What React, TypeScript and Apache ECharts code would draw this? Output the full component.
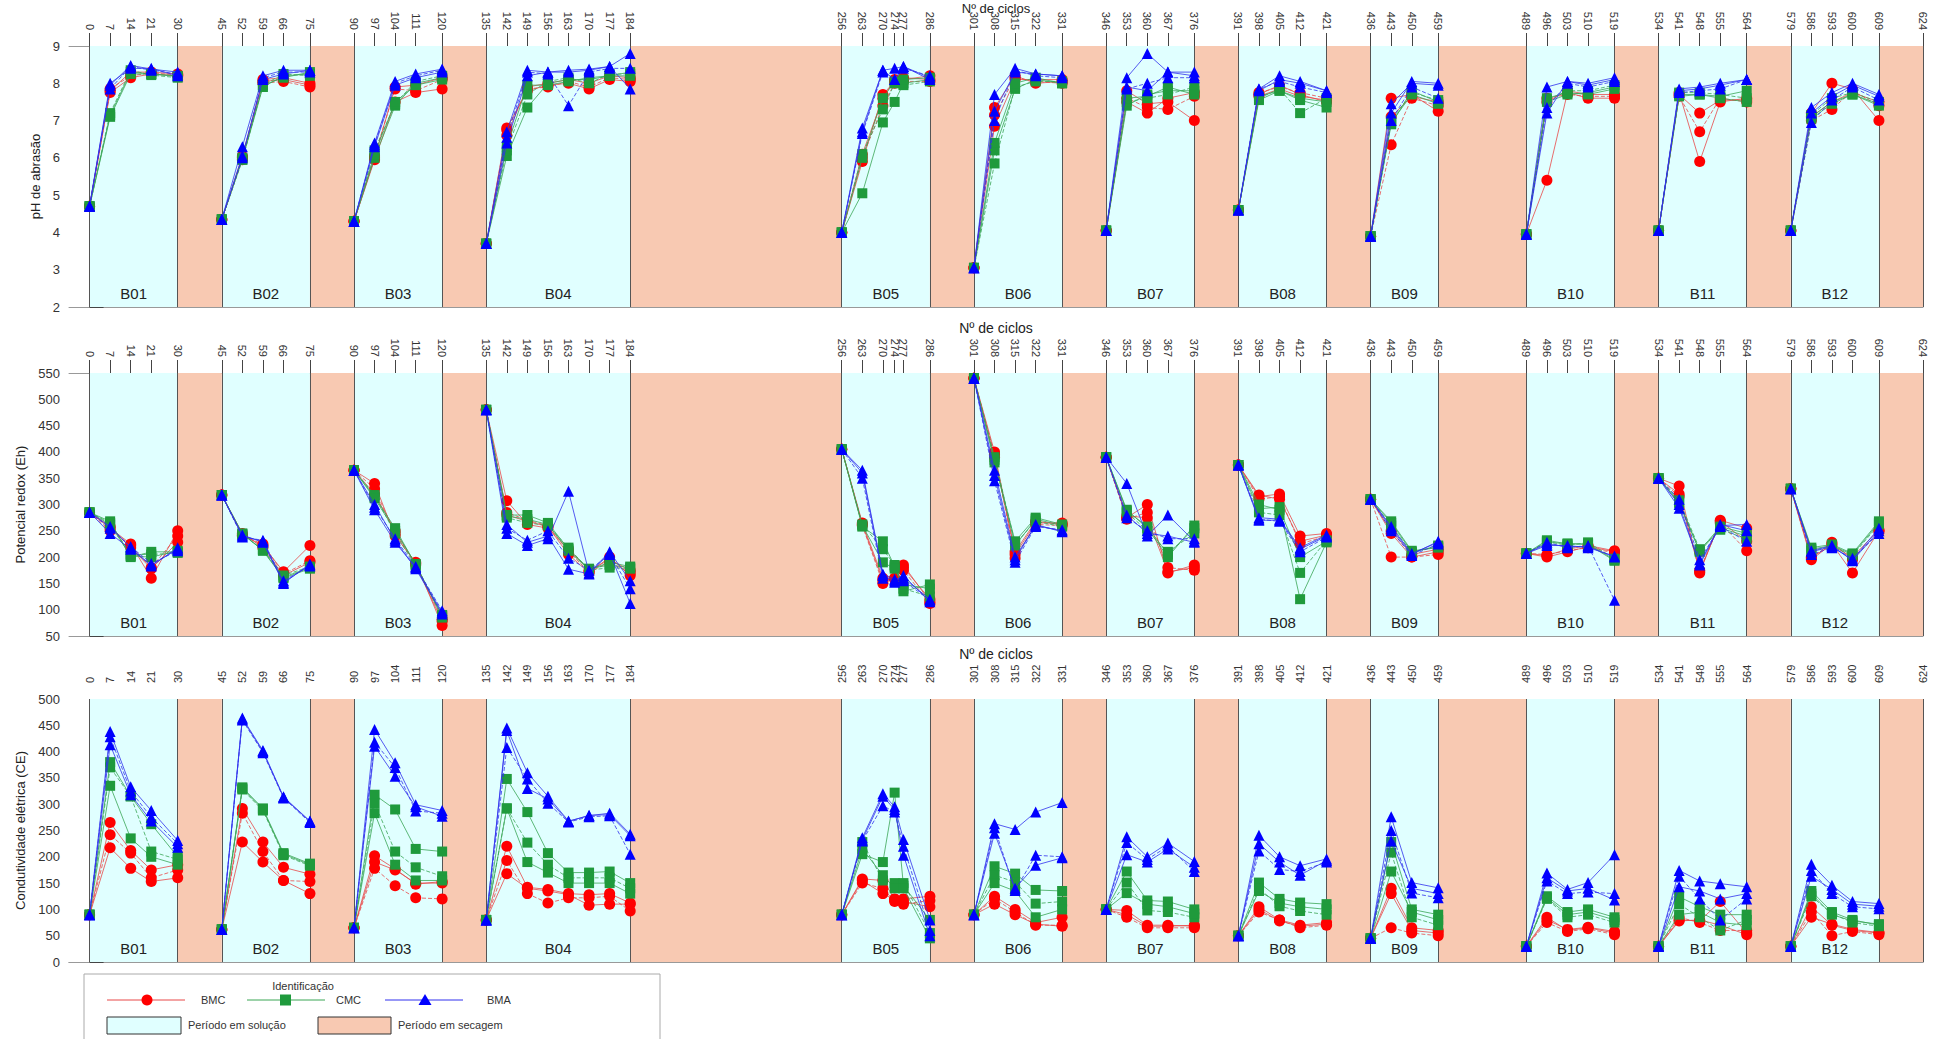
import React, { useEffect, useRef } from "react";
import * as echarts from "echarts";

// ---------- axis / period data ----------
const tickDays = [0, 7, 14, 21, 30, 45, 52, 59, 66, 75, 90, 97, 104, 111, 120, 135, 142, 149, 156, 163, 170, 177, 184,
  256, 263, 270, 274, 277, 286, 301, 308, 315, 322, 331, 346, 353, 360, 367, 376, 391, 398, 405, 412, 421,
  436, 443, 450, 459, 489, 496, 503, 510, 519, 534, 541, 548, 555, 564, 579, 586, 593, 600, 609, 624];

const blockNames = ["B01", "B02", "B03", "B04", "B05", "B06", "B07", "B08", "B09", "B10", "B11", "B12"];
const blockDays = [
  [0, 7, 14, 21, 30], [45, 52, 59, 66, 75], [90, 97, 104, 111, 120], [135, 142, 149, 156, 163, 170, 177, 184],
  [256, 263, 270, 274, 277, 286], [301, 308, 315, 322, 331], [346, 353, 360, 367, 376], [391, 398, 405, 412, 421],
  [436, 443, 450, 459], [489, 496, 503, 510, 519], [534, 541, 548, 555, 564], [579, 586, 593, 600, 609],
];
const dryingPeriods = [[30, 45], [75, 90], [120, 135], [184, 256], [286, 301], [331, 346], [376, 391], [421, 436], [459, 489], [519, 534], [564, 579], [609, 624]];
const boundaries = [0, 30, 45, 75, 90, 120, 135, 184, 256, 286, 301, 331, 346, 376, 391, 421, 436, 459, 489, 519, 534, 564, 579, 609, 624];

// ---------- pH de abrasão (block -> replicate -> values) ----------
const phBMC = [
  [[4.7, 7.75, 8.15, 8.25, 8.2], [4.7, 7.85, 8.2, 8.28, 8.22], [4.7, 7.8, 8.3, 8.3, 8.25]],
  [[4.35, 6.0, 8.05, 8.1, 7.95], [4.35, 5.95, 8.0, 8.05, 7.9], [4.35, 6.05, 8.1, 8.15, 8.0]],
  [[4.3, 5.95, 7.5, 7.75, 7.85], [4.3, 6.05, 7.85, 7.8, 8.1], [4.3, 6.0, 7.9, 7.95, 8.15]],
  [[3.7, 6.8, 7.8, 7.95, 8.0, 7.85, 8.1, 8.05], [3.7, 6.75, 7.85, 7.9, 8.05, 7.9, 8.15, 8.1], [3.7, 6.6, 7.9, 8.0, 8.1, 8.0, 8.2, 8.15]],
  [[4.0, 5.9, 7.7, 8.05, 8.1, 8.2], [4.0, 6.0, 7.4, 8.0, 8.05, 8.05], [4.0, 6.1, 7.6, 8.1, 8.15, 8.1]],
  [[3.05, 7.35, 8.2, 8.0, 8.05], [3.05, 7.15, 8.15, 8.05, 8.0], [3.05, 6.85, 8.1, 8.1, 8.1]],
  [[4.05, 7.8, 7.45, 7.5, 7.0], [4.05, 7.6, 7.35, 7.3, 7.65], [4.05, 7.5, 7.2, 7.6, 7.75]],
  [[4.6, 7.7, 7.95, 7.7, 7.5], [4.6, 7.75, 7.9, 7.75, 7.6], [4.6, 7.65, 7.85, 7.65, 7.55]],
  [[3.9, 7.6, 7.7, 7.25], [3.9, 6.35, 7.6, 7.4], [3.9, 7.1, 7.65, 7.5]],
  [[3.95, 5.4, 7.75, 7.6, 7.6], [3.95, 7.6, 7.7, 7.65, 7.65], [3.95, 7.5, 7.8, 7.7, 7.7]],
  [[4.05, 7.7, 7.2, 7.55, 7.55], [4.05, 7.65, 6.7, 7.6, 7.5], [4.05, 7.75, 5.9, 7.5, 7.6]],
  [[4.05, 7.2, 8.0, 7.85, 7.0], [4.05, 7.0, 7.3, 7.8, 7.4], [4.05, 7.1, 7.5, 7.75, 7.5]],
];
const phCMC = [
  [[4.7, 7.15, 8.3, 8.25, 8.2], [4.7, 7.2, 8.35, 8.22, 8.15], [4.7, 7.1, 8.25, 8.25, 8.18]],
  [[4.35, 5.95, 7.9, 8.2, 8.25], [4.35, 5.95, 7.95, 8.25, 8.2], [4.35, 6.0, 7.95, 8.15, 8.3]],
  [[4.3, 6.0, 7.4, 8.0, 8.15], [4.3, 6.2, 7.45, 8.05, 8.2], [4.3, 6.1, 7.5, 7.95, 8.1]],
  [[3.7, 6.05, 7.35, 8.0, 8.1, 8.1, 8.2, 8.2], [3.7, 6.2, 7.7, 8.05, 8.15, 8.0, 8.25, 8.25], [3.7, 6.3, 7.95, 7.95, 8.05, 8.15, 8.2, 8.3]],
  [[4.0, 5.05, 6.95, 7.5, 8.0, 8.1], [4.0, 6.1, 7.3, 8.0, 7.95, 8.05], [4.0, 6.0, 7.6, 8.05, 8.1, 8.15]],
  [[3.05, 6.2, 7.85, 8.1, 8.0], [3.05, 5.85, 7.9, 8.05, 8.05], [3.05, 6.4, 8.0, 8.15, 8.0]],
  [[4.05, 7.4, 7.7, 7.8, 7.8], [4.05, 7.5, 7.6, 7.7, 7.9], [4.05, 7.6, 7.65, 7.9, 7.7]],
  [[4.6, 7.55, 7.8, 7.55, 7.35], [4.6, 7.6, 7.85, 7.2, 7.6], [4.6, 7.65, 7.8, 7.6, 7.5]],
  [[3.9, 6.9, 7.8, 7.5], [3.9, 7.0, 7.75, 7.55], [3.9, 6.95, 7.7, 7.45]],
  [[3.95, 7.5, 7.7, 7.75, 7.9], [3.95, 7.55, 7.8, 7.8, 7.95], [3.95, 7.6, 7.75, 7.7, 7.85]],
  [[4.05, 7.7, 7.7, 7.6, 7.5], [4.05, 7.75, 7.75, 7.7, 7.6], [4.05, 7.65, 7.7, 7.65, 7.8]],
  [[4.05, 7.05, 7.45, 7.7, 7.4], [4.05, 7.15, 7.6, 7.75, 7.5], [4.05, 7.1, 7.5, 7.7, 7.45]],
];
const phBMA = [
  [[4.7, 7.95, 8.48, 8.38, 8.3], [4.7, 7.85, 8.45, 8.35, 8.25], [4.7, 8.0, 8.4, 8.4, 8.2]],
  [[4.35, 6.3, 8.2, 8.35, 8.35], [4.35, 6.0, 8.15, 8.3, 8.3], [4.35, 6.05, 8.1, 8.25, 8.35]],
  [[4.3, 6.4, 8.05, 8.25, 8.38], [4.3, 6.35, 8.0, 8.2, 8.35], [4.3, 6.3, 7.95, 8.15, 8.3]],
  [[3.7, 6.7, 8.35, 8.3, 8.35, 8.38, 8.45, 8.8], [3.7, 6.55, 8.3, 8.25, 7.4, 8.3, 8.4, 8.4], [3.7, 6.4, 8.2, 8.3, 8.3, 8.35, 8.45, 7.85]],
  [[4.0, 6.8, 8.35, 8.4, 8.45, 8.15], [4.0, 6.65, 8.3, 8.1, 8.4, 8.2], [4.0, 6.7, 8.35, 8.1, 8.45, 8.1]],
  [[3.05, 7.7, 8.4, 8.25, 8.2], [3.05, 7.0, 8.35, 8.2, 8.15], [3.05, 7.25, 8.3, 8.25, 8.2]],
  [[4.05, 8.15, 8.8, 8.3, 8.3], [4.05, 7.85, 8.0, 8.15, 8.15], [4.05, 7.9, 7.8, 8.3, 8.2]],
  [[4.6, 7.85, 8.2, 8.05, 7.8], [4.6, 7.85, 8.05, 7.9, 7.75], [4.6, 7.8, 8.1, 8.0, 7.8]],
  [[3.9, 7.45, 8.0, 7.95], [3.9, 7.0, 7.9, 7.6], [3.9, 7.2, 8.05, 8.0]],
  [[3.95, 7.9, 8.05, 8.0, 8.15], [3.95, 7.35, 8.0, 7.9, 8.05], [3.95, 7.2, 8.05, 7.95, 8.1]],
  [[4.05, 7.85, 7.9, 8.0, 8.1], [4.05, 7.75, 7.8, 7.85, 8.1], [4.05, 7.8, 7.85, 7.95, 8.1]],
  [[4.05, 7.35, 7.75, 8.0, 7.7], [4.05, 6.95, 7.55, 7.9, 7.55], [4.05, 7.2, 7.65, 7.95, 7.65]],
];

// ---------- Potencial redox (Eh) ----------
const ehBMC = [
  [[285, 255, 225, 160, 250], [285, 250, 222, 180, 240], [285, 258, 218, 178, 228]],
  [[318, 242, 222, 172, 222], [318, 240, 225, 168, 193], [318, 245, 218, 165, 190]],
  [[365, 340, 240, 190, 70], [365, 330, 245, 188, 82], [365, 320, 250, 185, 78]],
  [[480, 307, 262, 255, 215, 175, 195, 175], [480, 285, 270, 260, 210, 172, 190, 170], [480, 280, 268, 258, 205, 170, 200, 165]],
  [[405, 262, 155, 160, 185, 115], [405, 260, 150, 160, 175, 112], [405, 265, 160, 158, 180, 120]],
  [[540, 400, 205, 265, 265], [540, 395, 198, 262, 260], [540, 390, 210, 268, 262]],
  [[390, 275, 300, 170, 185], [390, 272, 285, 180, 175], [390, 278, 275, 172, 180]],
  [[375, 315, 320, 240, 245], [375, 310, 315, 225, 240], [375, 318, 310, 230, 242]],
  [[310, 245, 200, 210], [310, 200, 200, 205], [310, 250, 205, 215]],
  [[207, 200, 210, 220, 210], [207, 205, 212, 218, 208], [207, 203, 215, 222, 212]],
  [[350, 335, 170, 270, 255], [350, 315, 175, 265, 212], [350, 320, 172, 268, 230]],
  [[330, 195, 225, 170, 250], [330, 198, 228, 195, 248], [330, 200, 222, 200, 252]],
];
const ehCMC = [
  [[285, 268, 200, 210, 210], [285, 265, 205, 205, 208], [285, 262, 202, 200, 212]],
  [[318, 244, 213, 162, 180], [318, 242, 215, 165, 182], [318, 245, 212, 160, 178]],
  [[365, 315, 255, 185, 88], [365, 318, 245, 183, 90], [365, 312, 250, 187, 85]],
  [[480, 280, 280, 265, 215, 178, 185, 180], [480, 275, 265, 260, 218, 175, 180, 178], [480, 278, 272, 262, 212, 176, 190, 182]],
  [[405, 258, 230, 182, 135, 148], [405, 262, 215, 185, 140, 125], [405, 260, 190, 178, 148, 140]],
  [[540, 385, 222, 272, 260], [540, 390, 225, 268, 258], [540, 380, 230, 275, 262]],
  [[390, 290, 255, 200, 260], [390, 285, 250, 210, 245], [390, 288, 258, 205, 255]],
  [[375, 300, 290, 200, 230], [375, 285, 280, 170, 232], [375, 292, 295, 120, 228]],
  [[310, 265, 210, 220], [310, 260, 208, 222], [310, 268, 212, 218]],
  [[207, 232, 225, 225, 195], [207, 230, 222, 228, 197], [207, 228, 226, 224, 193]],
  [[350, 305, 210, 255, 240], [350, 308, 215, 252, 235], [350, 302, 212, 258, 245]],
  [[330, 215, 222, 205, 265], [330, 212, 220, 203, 262], [330, 218, 224, 207, 268]],
];
const ehBMA = [
  [[285, 245, 215, 185, 215], [285, 255, 220, 188, 212], [285, 258, 218, 183, 218]],
  [[318, 240, 230, 152, 185], [318, 238, 232, 155, 183], [318, 242, 228, 150, 187]],
  [[365, 290, 228, 180, 95], [365, 295, 235, 182, 98], [365, 300, 232, 178, 92]],
  [[480, 245, 222, 235, 325, 170, 210, 155], [480, 255, 232, 250, 198, 175, 205, 140], [480, 262, 228, 240, 177, 168, 208, 112]],
  [[405, 360, 165, 155, 165, 115], [405, 350, 160, 152, 155, 118], [405, 365, 168, 158, 160, 120]],
  [[540, 365, 200, 260, 250], [540, 345, 190, 258, 252], [540, 355, 195, 262, 248]],
  [[390, 340, 240, 280, 230], [390, 275, 250, 235, 235], [390, 280, 245, 240, 228]],
  [[375, 270, 270, 215, 240], [375, 272, 268, 210, 238], [375, 275, 272, 218, 242]],
  [[310, 255, 205, 230], [310, 250, 203, 225], [310, 258, 207, 228]],
  [[207, 225, 220, 220, 200], [207, 228, 218, 222, 118], [207, 222, 222, 218, 202]],
  [[350, 300, 185, 260, 262], [350, 310, 195, 258, 230], [350, 293, 188, 262, 250]],
  [[330, 210, 220, 195, 255], [330, 205, 218, 198, 245], [330, 212, 222, 193, 250]],
];

// ---------- Condutividade elétrica (CE) ----------
const ceBMC = [
  [[90, 265, 212, 175, 185], [90, 242, 207, 160, 175], [90, 217, 178, 153, 160]],
  [[62, 292, 228, 180, 167], [62, 283, 210, 155, 153], [62, 228, 190, 155, 130]],
  [[65, 202, 177, 148, 153], [65, 178, 145, 122, 120], [65, 190, 175, 150, 150]],
  [[80, 220, 142, 138, 130, 128, 130, 112], [80, 193, 130, 112, 122, 122, 125, 97], [80, 168, 140, 135, 128, 108, 110, 110]],
  [[90, 158, 155, 120, 120, 125], [90, 150, 140, 115, 110, 117], [90, 155, 130, 118, 115, 105]],
  [[90, 125, 100, 75, 85], [90, 120, 95, 70, 70], [90, 110, 90, 72, 68]],
  [[100, 98, 70, 70, 68], [100, 85, 65, 65, 65], [100, 90, 68, 68, 70]],
  [[50, 105, 80, 70, 75], [50, 95, 80, 65, 70], [50, 100, 78, 68, 72]],
  [[45, 140, 65, 60], [45, 65, 55, 50], [45, 130, 60, 55]],
  [[30, 85, 60, 65, 55], [30, 75, 58, 63, 52], [30, 80, 62, 66, 58]],
  [[30, 80, 78, 115, 55], [30, 85, 75, 60, 60], [30, 78, 80, 70, 52]],
  [[30, 105, 70, 60, 55], [30, 95, 50, 58, 52], [30, 85, 72, 62, 56]],
];
const ceCMC = [
  [[90, 380, 315, 262, 200], [90, 370, 315, 210, 195], [90, 335, 235, 200, 185]],
  [[62, 330, 290, 205, 185], [62, 328, 288, 203, 183], [62, 332, 292, 207, 187]],
  [[65, 318, 290, 215, 210], [65, 302, 210, 180, 163], [65, 283, 185, 155, 155]],
  [[80, 348, 285, 207, 170, 170, 172, 150], [80, 292, 227, 185, 160, 160, 160, 140], [80, 292, 190, 170, 150, 150, 150, 130]],
  [[90, 205, 190, 322, 145, 80], [90, 228, 155, 150, 150, 55], [90, 215, 165, 140, 140, 45]],
  [[90, 182, 168, 137, 135], [90, 165, 152, 111, 115], [90, 150, 135, 85, 100]],
  [[100, 172, 117, 115, 100], [100, 151, 98, 95, 85], [100, 131, 110, 105, 92]],
  [[50, 151, 120, 113, 110], [50, 140, 106, 97, 90], [50, 135, 112, 105, 100]],
  [[45, 228, 100, 90], [45, 208, 85, 70], [45, 172, 95, 80]],
  [[30, 125, 95, 100, 85], [30, 120, 85, 90, 75], [30, 122, 90, 95, 80]],
  [[30, 124, 105, 90, 90], [30, 110, 85, 60, 80], [30, 90, 95, 75, 70]],
  [[30, 135, 95, 80, 70], [30, 125, 92, 75, 68], [30, 130, 90, 78, 72]],
];
const ceBMA = [
  [[90, 438, 333, 288, 231], [90, 428, 325, 275, 225], [90, 413, 318, 268, 218]],
  [[62, 462, 400, 313, 267], [62, 460, 398, 312, 265], [62, 464, 402, 314, 268]],
  [[65, 442, 379, 299, 288], [65, 418, 370, 287, 283], [65, 410, 353, 295, 277]],
  [[80, 445, 360, 315, 268, 278, 283, 243], [80, 408, 348, 302, 266, 276, 278, 205], [80, 440, 330, 310, 267, 279, 280, 240]],
  [[90, 236, 320, 295, 233, 80], [90, 230, 297, 285, 220, 60], [90, 232, 315, 290, 203, 50]],
  [[90, 263, 252, 285, 303], [90, 255, 136, 203, 200], [90, 245, 140, 184, 198]],
  [[100, 238, 200, 226, 191], [100, 227, 195, 220, 172], [100, 204, 190, 215, 180]],
  [[50, 241, 200, 183, 196], [50, 211, 176, 172, 190], [50, 225, 190, 165, 193]],
  [[45, 276, 151, 141], [45, 250, 131, 122], [45, 230, 140, 130]],
  [[30, 169, 138, 151, 204], [30, 154, 130, 133, 130], [30, 160, 135, 140, 118]],
  [[30, 174, 154, 149, 143], [30, 163, 120, 80, 120], [30, 143, 135, 120, 130]],
  [[30, 186, 146, 115, 111], [30, 174, 130, 105, 101], [30, 163, 138, 110, 106]],
];

const panelNames = ["pH de abrasão", "Potencial redox (Eh)", "Condutividade elétrica (CE)"];
const panelMin = [2, 50, 0];
const panelMax = [9, 550, 500];
const panelInterval = [1, 50, 50];

// ---------- styles ----------
const FONT = '"Liberation Sans", Arial, sans-serif';
const CYAN = "#E0FFFF";
const SALMON = "#F8C9B2";
const X_MIN = -7;
const gridTops = [46, 373, 699];
const gridHeights = [261, 263, 263];
const nameGaps = [27, 41, 41];
const xNameGaps = [31, 37, 37];
const xNameSizes = [13, 14, 14];
const xNameMove = [false, true, true];

const treatments = [
  { name: "BMC", color: "#FF0000", line: "#E84848", symbol: "circle", size: 11 },
  { name: "CMC", color: "#1F9A3C", line: "#3AA655", symbol: "rect", size: 10 },
  { name: "BMA", color: "#0000FF", line: "#3030EE", symbol: "triangle", size: 11 },
];
const repLineTypes: any[] = ["solid", [4, 2], "solid"];

export default function App() {
  const ref = useRef<HTMLDivElement>(null);

  useEffect(() => {
    document.body.style.margin = "0";
    document.body.style.overflow = "hidden";
    const chart = echarts.init(ref.current!, undefined, { renderer: "svg" });

    const panelData = [
      [phBMC, phCMC, phBMA],
      [ehBMC, ehCMC, ehBMA],
      [ceBMC, ceCMC, ceBMA],
    ];

    const grids: any[] = [];
    const xAxes: any[] = [];
    const yAxes: any[] = [];
    const series: any[] = [];

    for (let p = 0; p < 3; p++) {
      grids.push({ left: 69, right: 20, top: gridTops[p], height: gridHeights[p], containLabel: false, outerBoundsMode: "none" });
      xAxes.push({
        type: "value", gridIndex: p, position: "top", min: X_MIN, max: 624,
        name: "Nº de ciclos", nameLocation: "middle", nameGap: xNameGaps[p], nameMoveOverlap: xNameMove[p],
        nameTextStyle: { fontSize: xNameSizes[p], color: "#222", fontFamily: FONT },
        axisLine: { show: true, lineStyle: { color: "#999", width: 1 } },
        axisTick: { show: true, customValues: tickDays, length: 13, lineStyle: { color: "#444", width: 1 } },
        axisLabel: { show: true, customValues: tickDays, rotate: 90, margin: 16, fontSize: 11, color: "#333", fontFamily: FONT, hideOverlap: false },
        splitLine: { show: false },
      });
      xAxes.push({
        type: "value", gridIndex: p, position: "bottom", min: X_MIN, max: 624,
        axisLine: { show: true, lineStyle: { color: "#999", width: 1 } },
        axisTick: { show: false }, axisLabel: { show: false }, splitLine: { show: false },
      });
      yAxes.push({
        type: "value", gridIndex: p, min: panelMin[p], max: panelMax[p], interval: panelInterval[p],
        name: panelNames[p], nameLocation: "middle", nameGap: nameGaps[p], nameRotate: 90,
        nameTextStyle: { fontSize: 13, color: "#222", fontFamily: FONT },
        axisLine: { show: false },
        axisTick: { show: true, inside: true, length: 14, lineStyle: { color: "#444" } },
        axisLabel: { margin: 9, fontSize: 13, color: "#333", fontFamily: FONT },
        splitLine: { show: false },
      });

      // background periods + boundaries
      const areas: any[] = [];
      blockDays.forEach((days, b) => {
        areas.push([
          {
            xAxis: days[0], name: blockNames[b], itemStyle: { color: CYAN },
            label: { show: true, position: "insideBottom", distance: 6, formatter: "{b}", fontSize: 15, color: "#222", fontFamily: FONT },
          },
          { xAxis: days[days.length - 1] },
        ]);
      });
      dryingPeriods.forEach(([a, b]) => {
        areas.push([{ xAxis: a, itemStyle: { color: SALMON }, label: { show: false } }, { xAxis: b }]);
      });
      series.push({
        type: "line", xAxisIndex: p * 2, yAxisIndex: p, data: [], z: 1, silent: true,
        markArea: { silent: true, data: areas },
        markLine: {
          silent: true, symbol: "none", label: { show: false },
          lineStyle: { color: "#555", width: 1, type: "solid" },
          data: boundaries.map((v) => ({ xAxis: v })),
        },
      });

      treatments.forEach((t, ti) => {
        const arr = panelData[p][ti];
        for (let r = 0; r < 3; r++) {
          const data: any[] = [];
          blockDays.forEach((days, b) => {
            days.forEach((d, i) => data.push([d, arr[b][r][i]]));
            data.push([days[days.length - 1] + 0.5, "-"]);
          });
          series.push({
            type: "line", name: t.name, xAxisIndex: p * 2, yAxisIndex: p, data,
            symbol: t.symbol, symbolSize: t.size, showSymbol: true, connectNulls: false,
            itemStyle: { color: t.color }, silent: true,
            lineStyle: { color: t.line, width: 0.8, type: repLineTypes[r] },
            z: 5 + ti,
          });
        }
      });
    }

    // legend box
    const ly1 = 1000, ly2 = 1025;
    const txt = (x: number, y: number, text: string, align = "left") => ({
      type: "text", x, y,
      style: { text, fill: "#333", fontSize: 11, fontFamily: FONT, align, verticalAlign: "middle" },
    });
    const graphic: any[] = [
      { type: "rect", shape: { x: 84, y: 974, width: 576, height: 80 }, style: { fill: "#fff", stroke: "#aaa", lineWidth: 1 } },
      txt(303, 986, "Identificação", "center"),
      { type: "line", shape: { x1: 107, y1: ly1, x2: 185, y2: ly1 }, style: { stroke: "#E84848", lineWidth: 1 } },
      { type: "circle", shape: { cx: 147, cy: ly1, r: 5.5 }, style: { fill: "#FF0000" } },
      txt(201, ly1, "BMC"),
      { type: "line", shape: { x1: 247, y1: ly1, x2: 325, y2: ly1 }, style: { stroke: "#3AA655", lineWidth: 1 } },
      { type: "rect", shape: { x: 280, y: ly1 - 5.5, width: 11, height: 11 }, style: { fill: "#1F9A3C" } },
      txt(336, ly1, "CMC"),
      { type: "line", shape: { x1: 385, y1: ly1, x2: 463, y2: ly1 }, style: { stroke: "#3030EE", lineWidth: 1 } },
      { type: "polygon", shape: { points: [[425, ly1 - 6], [431.5, ly1 + 5], [418.5, ly1 + 5]] }, style: { fill: "#0000FF" } },
      txt(487, ly1, "BMA"),
      { type: "rect", shape: { x: 107, y: 1017, width: 74, height: 17 }, style: { fill: CYAN, stroke: "#333", lineWidth: 1 } },
      txt(188, ly2, "Período em solução"),
      { type: "rect", shape: { x: 318, y: 1017, width: 73, height: 17 }, style: { fill: SALMON, stroke: "#333", lineWidth: 1 } },
      txt(398, ly2, "Período em secagem"),
    ];

    chart.setOption({
      animation: false,
      textStyle: { fontFamily: FONT },
      grid: grids,
      xAxis: xAxes,
      yAxis: yAxes,
      series,
      graphic,
    });

    return () => chart.dispose();
  }, []);

  return <div ref={ref} style={{ width: 1943, height: 1039 }} />;
}
